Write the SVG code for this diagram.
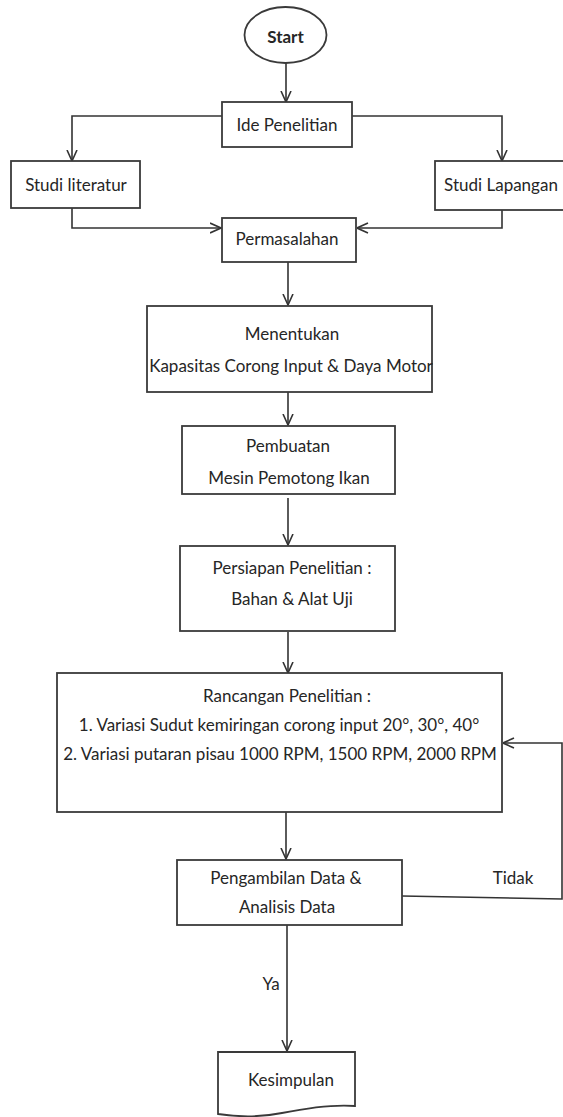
<svg xmlns="http://www.w3.org/2000/svg" width="563" height="1117" viewBox="0 0 563 1117">
<style>
.box{fill:#fff;stroke:#3a3a3a;stroke-width:1.8}
.t{font-family:Lato,"Open Sans","Liberation Sans",sans-serif;font-size:17px;fill:#262626;text-anchor:middle}
.b{font-weight:bold}
.c{fill:none;stroke:#333;stroke-width:1.6}
</style>
<defs>
<marker id="ah" markerUnits="userSpaceOnUse" markerWidth="12" markerHeight="12" viewBox="0 0 12 12" refX="11.5" refY="6" orient="auto">
<path d="M0.5,1 L11.5,6 L0.5,11" fill="none" stroke="#333" stroke-width="1.6"/>
</marker>
</defs>
<rect width="563" height="1117" fill="#fff"/>
<g id="connectors">
<path class="c" d="M286,63 V102" marker-end="url(#ah)"/>
<path class="c" d="M222,116 H72 V161" marker-end="url(#ah)"/>
<path class="c" d="M352,116 H502 V161" marker-end="url(#ah)"/>
<path class="c" d="M72,208 V228 H221" marker-end="url(#ah)"/>
<path class="c" d="M502,210 V228 H357" marker-end="url(#ah)"/>
<path class="c" d="M288,262 V305" marker-end="url(#ah)"/>
<path class="c" d="M288,392 V425" marker-end="url(#ah)"/>
<path class="c" d="M288,498 V545" marker-end="url(#ah)"/>
<path class="c" d="M288,632 V673" marker-end="url(#ah)"/>
<path class="c" d="M286,812 V859" marker-end="url(#ah)"/>
<path class="c" d="M402,896 L562,899 V743 H503" marker-end="url(#ah)"/>
<path class="c" d="M287,925 V1051" marker-end="url(#ah)"/>
<text class="t" x="513" y="884">Tidak</text>
<text class="t" x="271" y="990">Ya</text>
</g>
<g id="start">
<ellipse class="box" cx="285.5" cy="35" rx="41" ry="28"/>
<text class="t b" x="285.5" y="43">Start</text>
</g>
<g id="ide">
<rect class="box" x="222" y="102" width="130" height="45"/>
<text class="t" x="287" y="131">Ide Penelitian</text>
</g>
<g id="literatur">
<rect class="box" x="11" y="161" width="129" height="47"/>
<text class="t" x="76" y="191">Studi literatur</text>
</g>
<g id="lapangan">
<rect class="box" x="435" y="161" width="130" height="49"/>
<text class="t" x="501" y="191">Studi Lapangan</text>
</g>
<g id="permasalahan">
<rect class="box" x="222" y="218" width="134" height="44"/>
<text class="t" x="287" y="245">Permasalahan</text>
</g>
<g id="menentukan">
<rect class="box" x="147" y="306" width="285" height="86"/>
<text class="t" x="292" y="340">Menentukan</text>
<text class="t" x="291" y="372">Kapasitas Corong Input &amp; Daya Motor</text>
</g>
<g id="pembuatan">
<rect class="box" x="182" y="426" width="213" height="68"/>
<text class="t" x="288" y="452">Pembuatan</text>
<text class="t" x="289" y="484">Mesin Pemotong Ikan</text>
</g>
<g id="persiapan">
<rect class="box" x="180" y="546" width="215" height="85"/>
<text class="t" x="292" y="574">Persiapan Penelitian :</text>
<text class="t" x="292" y="605">Bahan &amp; Alat Uji</text>
</g>
<g id="rancangan">
<rect class="box" x="57" y="673" width="445" height="139"/>
<text class="t" x="287" y="702">Rancangan Penelitian :</text>
<text class="t" x="279" y="731">1. Variasi Sudut kemiringan corong input 20°, 30°, 40°</text>
<text class="t" x="280" y="760">2. Variasi putaran pisau 1000 RPM, 1500 RPM, 2000 RPM</text>
</g>
<g id="pengambilan">
<rect class="box" x="177" y="860" width="225" height="65"/>
<text class="t" x="286" y="884">Pengambilan Data &amp;</text>
<text class="t" x="287" y="913">Analisis Data</text>
</g>
<g id="kesimpulan">
<path class="box" d="M218,1052 H355 V1106 C330,1104 302,1109 282,1113 C262,1117 238,1117 218,1114 Z"/>
<text class="t" x="291" y="1086">Kesimpulan</text>
</g>
</svg>
